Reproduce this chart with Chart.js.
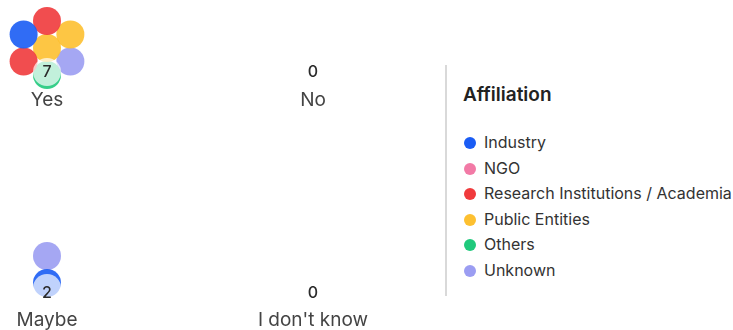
<!DOCTYPE html><html lang="en">
<head>
  <meta charset="UTF-8" />
  <title>Affiliation</title>
  <script src="https://cdn.jsdelivr.net/npm/chart.js"></script>
  <style>
    body {
      margin: 0;
      background: #fff;
      font-family: Inter, 'Noto Sans', sans-serif;
      color: #333;
    }
    .wrap {
      position: relative;
      width: 733px;
      height: 330px;
      overflow: hidden;
    }
    .plot {
      position: absolute;
      left: 0;
      top: 0;
      width: 440px;
      height: 330px;
    }
    .legend {
      position: absolute;
      left: 445px;
      top: 65px;
      height: 231px;
      border-left: 2px solid #d9d9d9;
      padding-left: 16px;
    }
    .legend h3 {
      margin: 18px 0 0 0;
      font-size: 19px;
      font-weight: 600;
      color: #222;
    }
    .legend ul {
      list-style: none;
      margin: 24px 0 0 0;
      padding: 0;
    }
    .legend li {
      height: 25.6px;
      line-height: 25.6px;
      font-size: 16px;
      color: #333;
      white-space: nowrap;
    }
    .legend .dot {
      display: inline-block;
      width: 12px;
      height: 12px;
      border-radius: 50%;
      margin: 0 8px 0 1px;
      vertical-align: -1px;
    }
  </style>
</head>
<body>
  <div class="wrap">
    <div class="plot"><canvas id="bubbles"></canvas></div>
    <div class="legend">
      <h3>Affiliation</h3>
      <ul id="legendList"></ul>
    </div>
  </div>
<script>
const categories = ["Yes", "No", "Maybe", "I don't know"];
const affiliations = ["Industry", "NGO", "Research Institutions / Academia", "Public Entities", "Others", "Unknown"];
const affiliationColors = ["#1a5cf4", "#f27aa6", "#f03a3c", "#fdc030", "#20c97c", "#9b9df2"];

// one entry per respondent, in packing order (centre first, then around)
const yesMembers = ["Public Entities", "Others", "Research Institutions / Academia", "Industry",
                    "Research Institutions / Academia", "Public Entities", "Unknown"];
const noMembers = [];
const maybeMembers = ["Unknown", "Industry"];
const dontKnowMembers = [];
const members = [yesMembers, noMembers, maybeMembers, dontKnowMembers];

// layout of the 2x2 grid, in scale units (scales are 0..440 x 0..330)
const colX = [47, 313, 47, 313];
const labelY = [100, 100, 320, 320];
const countY = [72, 72, 293, 293];
const badgeY = [72, 72, 288, 288];
const clusterY = [48, 48, 256, 256];
const R = 14, STEP = 27;
const slotAngles = [90, 150, 210, 270, 330, 30];

function slot(i) {
  if (i === 0) return [0, 0];
  const a = slotAngles[(i - 1) % 6] * Math.PI / 180;
  return [STEP * Math.cos(a), STEP * Math.sin(a)];
}

const datasets = affiliations.map((name, k) => {
  const pts = [];
  members.forEach((list, c) => {
    list.forEach((m, i) => {
      if (m !== name) return;
      const [dx, dy] = slot(i);
      pts.push({ x: colX[c] + dx, y: clusterY[c] + dy, r: R });
    });
  });
  return {
    label: name,
    data: pts,
    backgroundColor: affiliationColors[k] + 'e6',
    borderWidth: 0,
    order: 1
  };
});

// translucent badge behind the count
datasets.push({
  label: 'count',
  data: members.map((list, c) => list.length ? { x: colX[c], y: badgeY[c], r: R } : null).filter(Boolean),
  backgroundColor: 'rgba(255,255,255,0.7)',
  borderWidth: 0,
  order: 0
});

const textPlugin = {
  id: 'catText',
  afterDatasetsDraw(chart) {
    const { ctx, scales: { x, y } } = chart;
    ctx.save();
    ctx.textAlign = 'center';
    ctx.textBaseline = 'middle';
    categories.forEach((c, i) => {
      const px = x.getPixelForValue(colX[i]);
      ctx.fillStyle = '#2b2b2b';
      ctx.font = '500 16px Inter';
      ctx.fillText(String(members[i].length), px, y.getPixelForValue(countY[i]));
      ctx.fillStyle = '#444';
      ctx.font = '19px Inter';
      ctx.fillText(c, px, y.getPixelForValue(labelY[i]));
    });
    ctx.restore();
  }
};

new Chart(document.getElementById('bubbles'), {
  type: 'bubble',
  data: { datasets },
  options: {
    responsive: true,
    maintainAspectRatio: false,
    animation: false,
    events: [],
    clip: false,
    layout: { padding: 0, autoPadding: false },
    scales: {
      x: { type: 'linear', min: 0, max: 440, display: false },
      y: { type: 'linear', min: 0, max: 330, reverse: true, display: false }
    },
    plugins: { legend: { display: false }, tooltip: { enabled: false } }
  },
  plugins: [textPlugin]
});

document.getElementById('legendList').innerHTML = affiliations.map((a, i) =>
  `<li><span class="dot" style="background:${affiliationColors[i]}"></span>${a}</li>`
).join('');
</script>
</body>
</html>
